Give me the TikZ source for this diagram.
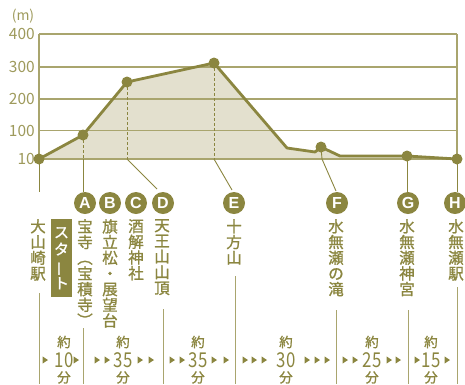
\documentclass[tikz,border=0pt]{standalone}
\usepackage{fontspec}
\newfontfamily\jp{Noto Sans CJK JP}
\newfontfamily\jpm{Noto Sans CJK JP}[FakeBold=1.2]
\newfontfamily\lat{Liberation Sans}
\definecolor{olv}{HTML}{8B8640}
\definecolor{grd}{HTML}{A9A56E}
\definecolor{fil}{HTML}{E3E0CE}
\definecolor{axt}{HTML}{9E9A5C}
\begin{document}
\begin{tikzpicture}[x=1pt,y=-1pt,
  vt/.style={anchor=north, inner sep=0pt, align=center, text=olv, font=\jpm\fontsize{15.5}{15.7}\selectfont},
  circ/.style={circle, fill=olv, minimum size=22pt, inner sep=0pt, text=white, font=\lat\bfseries\fontsize{16}{16}\selectfont},
  pt/.style={circle, fill=olv, minimum size=11pt, inner sep=0pt},
  gridln/.style={draw=grd, line width=1.2pt},
  prof/.style={draw=olv, line width=2.8pt, line join=round},
  dsh/.style={draw=olv, line width=1pt, dash pattern=on 3pt off 2pt},
  conn/.style={draw=olv, line width=0.9pt},
  bline/.style={draw=grd, line width=1pt},
  yl/.style={anchor=east, text=axt, inner sep=0pt, font=\jp\fontsize{15.5}{15.5}\selectfont},
  yk/.style={inner sep=0pt, text=olv, font=\jpm\fontsize{13.5}{13.5}\selectfont},
  num/.style={inner sep=0pt, text=olv, font=\jp\fontsize{20.5}{20.5}\selectfont},
  tri/.pic={\fill[olv] (-2.5,-3.6) -- (-2.5,3.6) -- (3,0) -- cycle;}
]
\useasboundingbox (0,0) rectangle (465,384);

% fill under profile
\fill[fil] (39,159) -- (83,135) -- (127,82) -- (214,63) -- (287,148) -- (315,152) -- (321,147) -- (340,156) -- (407,156) -- (457,159) -- cycle;

% grid
\foreach \yy in {34,67,99,130.5,159} \draw[gridln] (39,\yy) -- (457,\yy);
\draw[gridln] (39,34) -- (39,159);
\draw[gridln] (457,34) -- (457,159);

% axis labels
\node[inner sep=0pt, text=axt, font=\jp\fontsize{14}{14}\selectfont] (unit) at (23,16) {(m)};
\node[yl] (y400) at (35,34) {400};
\node[yl] (y300) at (35,67) {300};
\node[yl] (y200) at (35,99) {200};
\node[yl] (y100) at (35,130.5) {100};
\node[yl] (y10) at (35,159) {10};

% profile coordinates
\coordinate (p0) at (39,159);
\coordinate (pA) at (83,135);
\coordinate (pD) at (127,82);
\coordinate (pE) at (214,63);
\coordinate (k1) at (287,148);
\coordinate (k2) at (315,152);
\coordinate (pF) at (321,147);
\coordinate (k3) at (340,156);
\coordinate (pG) at (407,156);
\coordinate (pH) at (457,159);

% dashed drops
\draw[dsh] (pA) -- (83,159);
\draw[dsh] (pD) -- (127,159);
\draw[dsh] (pE) -- (214,159);

% connectors to circles
\coordinate (tS) at (39,192);
\coordinate (tA) at (83,192);
\coordinate (tD) at (157,189);
\coordinate (tE) at (232,190);
\coordinate (tF) at (336,191);
\coordinate (tG) at (407,192);
\coordinate (tH) at (457,192);
\draw[conn] (p0) -- (tS);
\draw[conn] (83,159) -- (tA);
\draw[conn] (127,159) -- (tD);
\draw[conn] (214,159) -- (tE);
\draw[conn] (pF) -- (322,159) -- (tF);
\draw[conn] (pG) -- (tG);
\draw[conn] (pH) -- (tH);

% profile line
\draw[prof] (p0) -- (pA) -- (pD) -- (pE) -- (k1) -- (k2) -- (pF) -- (k3) -- (pG) -- (pH);
\foreach \p in {p0,pA,pD,pE,pF,pG,pH} \node[pt] at (\p) {};

% letter circles
\node[circ] (cA) at (85,203) {A};
\node[circ] (cB) at (110,203) {B};
\node[circ] (cC) at (136,203) {C};
\node[circ] (cD) at (163,203) {D};
\node[circ] (cE) at (234,203) {E};
\node[circ] (cF) at (337,203) {F};
\node[circ] (cG) at (408,203) {G};
\node[circ] (cH) at (455,203) {H};

% vertical labels
\node[vt] (lS) at (38,219) {大\\山\\崎\\駅};
\node[fill=olv, anchor=north, minimum width=21pt, minimum height=78pt, inner sep=0pt, align=center, text=white, font=\jpm\fontsize{15}{17}\selectfont] (st) at (61.5,219) {ス\\タ\\\rotatebox[origin=c]{90}{ー}\\ト};
\node[vt] (lA) at (85,219) {宝\\寺\\︵\\宝\\積\\寺\\︶};
\node[vt] (lB) at (110,219) {旗\\立\\松\\・\\展\\望\\台};
\node[vt] (lC) at (136,219) {酒\\解\\神\\社};
\node[vt] (lD) at (162,219) {天\\王\\山\\山\\頂};
\node[vt] (lE) at (234,219) {十\\方\\山};
\node[vt] (lF) at (336,219) {水\\無\\瀬\\の\\滝};
\node[vt] (lG) at (407,219) {水\\無\\瀬\\神\\宮};
\node[vt] (lH) at (456,219) {水\\無\\瀬\\駅};

% bottom separator lines
\coordinate (bS) at (39,384);
\coordinate (bA) at (83,384);
\coordinate (bD) at (163,384);
\coordinate (bE) at (235,384);
\coordinate (bF) at (336,384);
\coordinate (bG) at (408,384);
\coordinate (bH) at (457,384);
\draw[bline] (39,293) -- (bS);
\draw[bline] (83,328) -- (bA);
\draw[bline] (163,309) -- (bD);
\draw[bline] (235,276) -- (bE);
\draw[bline] (336,310) -- (bF);
\draw[bline] (408,310) -- (bG);
\draw[bline] (457,287) -- (bH);

% time labels
\foreach \nm/\xx/\tt in {t1/64/10, t2/123/35, t3/198/35, t4/286/30, t5/372/25, t6/431/15} {
  \node[yk] (y\nm) at (\xx,342) {約};
  \node[num] (n\nm) at (\xx,360) {\scalebox{0.82}[1]{\tt}};
  \node[yk] (f\nm) at (\xx,377.5) {分};
}
\foreach \xx in {45,76, 97,107,140,151, 172,182,214,226, 245,254,264,307,317,327, 345,355,389,398, 417,447}
  \pic at (\xx,360) {tri};
\end{tikzpicture}
\end{document}
